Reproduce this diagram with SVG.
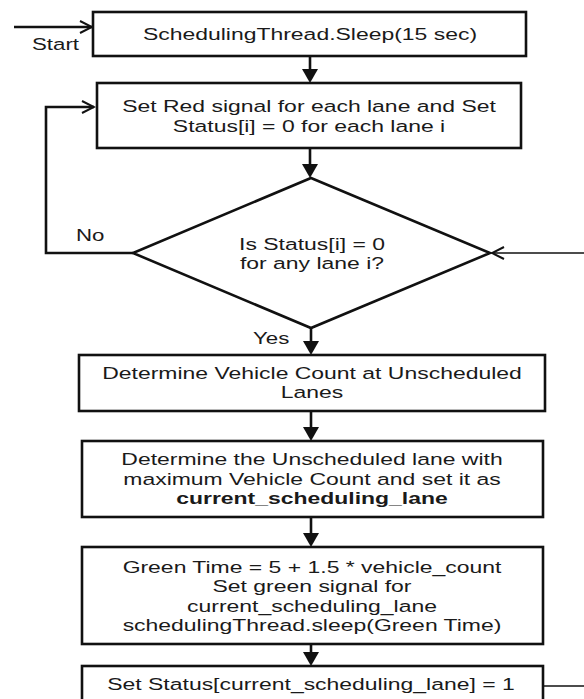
<svg xmlns="http://www.w3.org/2000/svg" width="584" height="699" viewBox="0 0 584 699">
<defs>
<style>
.box{fill:#fff;stroke:#111;stroke-width:2.6}
.t{font-family:"Liberation Sans",Arial,sans-serif;font-size:17px;fill:#1a1a1a;text-anchor:middle}
.lbl{font-family:"Liberation Sans",Arial,sans-serif;font-size:16.5px;fill:#1a1a1a;text-anchor:start}
.b{font-weight:bold}
.c{fill:none;stroke:#111;stroke-width:2.6}
.thin{fill:none;stroke:#111;stroke-width:1.6}
</style>
<marker id="fa" markerUnits="userSpaceOnUse" viewBox="0 0 14 16" refX="0" refY="8" markerWidth="14" markerHeight="16" orient="auto">
<path d="M0,0 L14,8 L0,16 z" fill="#111"/>
</marker>
<marker id="oa" markerUnits="userSpaceOnUse" viewBox="-1 -1 15 14" refX="12" refY="6" markerWidth="15" markerHeight="14" orient="auto">
<path d="M0,0 L12,6 L0,12" fill="none" stroke="#111" stroke-width="2"/>
</marker>
</defs>
<rect width="584" height="699" fill="#fff"/>

<g id="connectors">
<line class="c" x1="14" y1="27" x2="92" y2="27" marker-end="url(#oa)"/>
<line class="c" x1="310" y1="56" x2="310" y2="69" marker-end="url(#fa)"/>
<line class="c" x1="310" y1="148" x2="310" y2="164" marker-end="url(#fa)"/>
<line class="c" x1="311" y1="328" x2="311" y2="341" marker-end="url(#fa)"/>
<line class="c" x1="311" y1="411" x2="311" y2="427" marker-end="url(#fa)"/>
<line class="c" x1="311" y1="517" x2="311" y2="533" marker-end="url(#fa)"/>
<line class="c" x1="311" y1="644" x2="311" y2="652" marker-end="url(#fa)"/>
<polyline class="c" points="133,253 46,253 46,107 94,107" marker-end="url(#oa)"/>
<line class="thin" x1="590" y1="253" x2="492" y2="253" marker-end="url(#oa)"/>
<line class="thin" x1="543" y1="686" x2="590" y2="686"/>
<text class="lbl" transform="translate(32,0) scale(1.35,1)" y="50">Start</text>
<text class="lbl" transform="translate(76,0) scale(1.35,1)" y="241">No</text>
<text class="lbl" transform="translate(253,0) scale(1.35,1)" y="344">Yes</text>
</g>

<g id="sleep">
<rect class="box" x="93" y="12" width="433" height="44"/>
<text class="t" transform="translate(310,0) scale(1.35,1)" y="40">SchedulingThread.Sleep(15 sec)</text>
</g>

<g id="setRed">
<rect class="box" x="97" y="83" width="424" height="65"/>
<text class="t" transform="translate(309,0) scale(1.35,1)" y="112">Set Red signal for each lane and Set</text>
<text class="t" transform="translate(309,0) scale(1.35,1)" y="132">Status[i] = 0 for each lane i</text>
</g>

<g id="decision">
<polygon class="box" points="311,178 490,253 311,328 133,253"/>
<text class="t" transform="translate(312,0) scale(1.35,1)" y="250">Is Status[i] = 0</text>
<text class="t" transform="translate(312,0) scale(1.35,1)" y="269">for any lane i?</text>
</g>

<g id="count">
<rect class="box" x="79" y="355" width="466" height="56"/>
<text class="t" transform="translate(312,0) scale(1.35,1)" y="379">Determine Vehicle Count at Unscheduled</text>
<text class="t" transform="translate(312,0) scale(1.35,1)" y="398">Lanes</text>
</g>

<g id="maxLane">
<rect class="box" x="82" y="441" width="461" height="76"/>
<text class="t" transform="translate(312,0) scale(1.35,1)" y="465">Determine the Unscheduled lane with</text>
<text class="t" transform="translate(312,0) scale(1.35,1)" y="485">maximum Vehicle Count and set it as</text>
<text class="t b" transform="translate(312,0) scale(1.35,1)" y="504">current_scheduling_lane</text>
</g>

<g id="green">
<rect class="box" x="82" y="547" width="461" height="97"/>
<text class="t" transform="translate(312,0) scale(1.35,1)" y="573">Green Time = 5 + 1.5 * vehicle_count</text>
<text class="t" transform="translate(312,0) scale(1.35,1)" y="592">Set green signal for</text>
<text class="t" transform="translate(312,0) scale(1.35,1)" y="612">current_scheduling_lane</text>
<text class="t" transform="translate(312,0) scale(1.35,1)" y="631">schedulingThread.sleep(Green Time)</text>
</g>

<g id="setStatus">
<rect class="box" x="82" y="666" width="461" height="50"/>
<text class="t" transform="translate(311,0) scale(1.35,1)" y="690">Set Status[current_scheduling_lane] = 1</text>
</g>
</svg>
